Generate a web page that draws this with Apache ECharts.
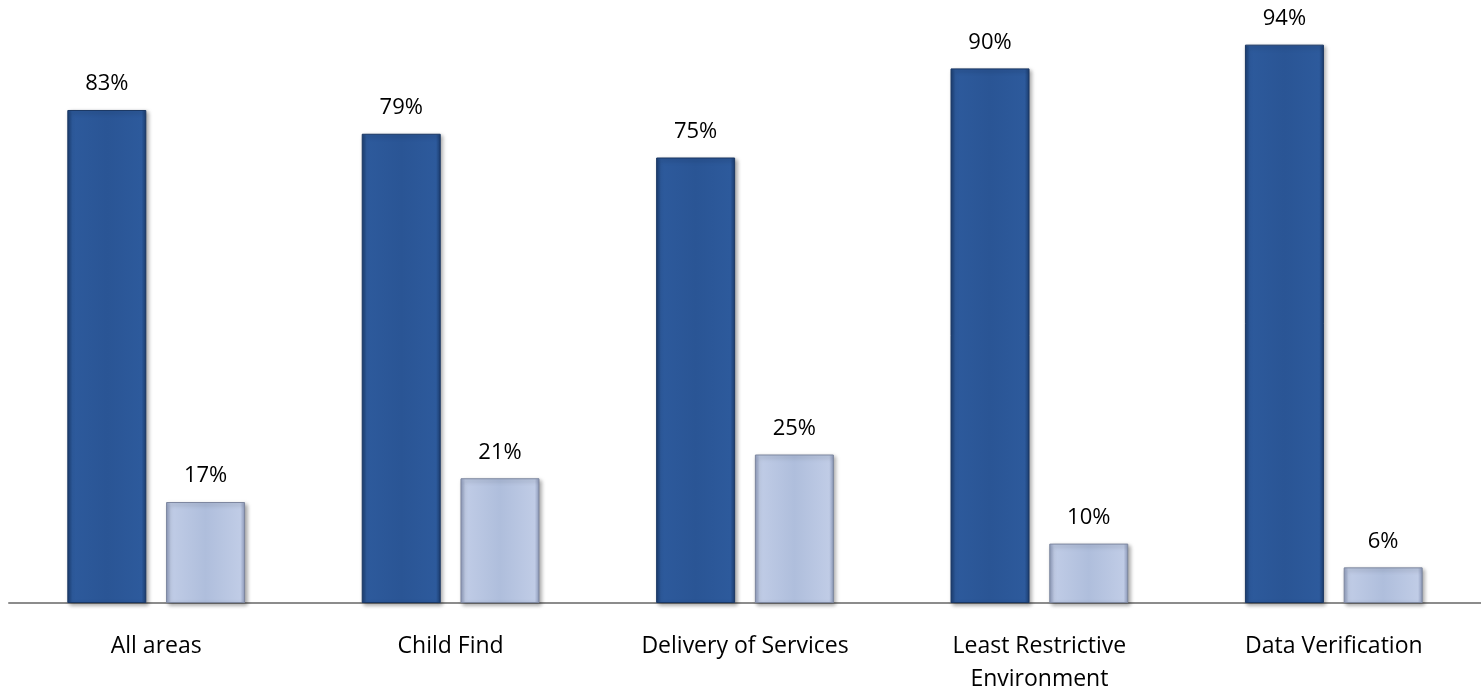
<!DOCTYPE html>
<html>
<head>
<meta charset="utf-8">
<style>
  html, body { margin: 0; padding: 0; background: #fff; }
  #chart { width: 1481px; height: 696px; }
</style>
<script src="https://cdn.jsdelivr.net/npm/echarts@6/dist/echarts.min.js"></script>
</head>
<body>
<div id="chart"></div>
<script>
// Areas reviewed and share of findings per outcome
const categories = ['All areas', 'Child Find', 'Delivery of Services', 'Least Restrictive\nEnvironment', 'Data Verification'];
const primaryValues = [83, 79, 75, 90, 94];
const secondaryValues = [17, 21, 25, 10, 6];

const chart = echarts.init(document.getElementById('chart'));

// Horizontal gradient with darker edges to give the bars a bevelled look
function bevel(edge, mid, light) {
  return {
    type: 'linear', x: 0, y: 0, x2: 1, y2: 0,
    colorStops: [
      { offset: 0, color: edge },
      { offset: 0.06, color: light },
      { offset: 0.5, color: mid },
      { offset: 0.94, color: light },
      { offset: 1, color: edge }
    ]
  };
}

const fontFamily = 'Open Sans, Liberation Sans, sans-serif';

const labelStyle = {
  show: true,
  position: 'top',
  distance: 15,
  formatter: '{c}%',
  color: '#000',
  fontFamily: fontFamily,
  fontSize: 22
};

chart.setOption({
  animation: false,
  grid: { left: 9, right: 0, top: 9, bottom: 88 },
  xAxis: {
    type: 'category',
    data: categories,
    axisLine: { lineStyle: { color: '#8c8c8c', width: 2 } },
    axisTick: { show: false },
    axisLabel: {
      color: '#000',
      fontFamily: fontFamily,
      fontSize: 23,
      margin: 27,
      lineHeight: 33
    }
  },
  yAxis: {
    type: 'value',
    min: 0,
    max: 100,
    show: false
  },
  series: [
    {
      type: 'bar',
      data: primaryValues,
      barWidth: 79,
      barGap: '25%',
      itemStyle: {
        color: bevel('#1b3d70', '#2a5595', '#2d5a9c'),
        borderColor: '#1a3763',
        borderWidth: 1,
        shadowColor: 'rgba(0,0,0,0.35)',
        shadowBlur: 4,
        shadowOffsetX: 2,
        shadowOffsetY: 2
      },
      label: labelStyle
    },
    {
      type: 'bar',
      data: secondaryValues,
      barWidth: 79,
      itemStyle: {
        color: bevel('#8d9abb', '#afbedc', '#c0cce6'),
        borderColor: '#7d879f',
        borderWidth: 1,
        shadowColor: 'rgba(0,0,0,0.35)',
        shadowBlur: 4,
        shadowOffsetX: 2,
        shadowOffsetY: 2
      },
      label: labelStyle
    }
  ]
});
</script>
</body>
</html>
